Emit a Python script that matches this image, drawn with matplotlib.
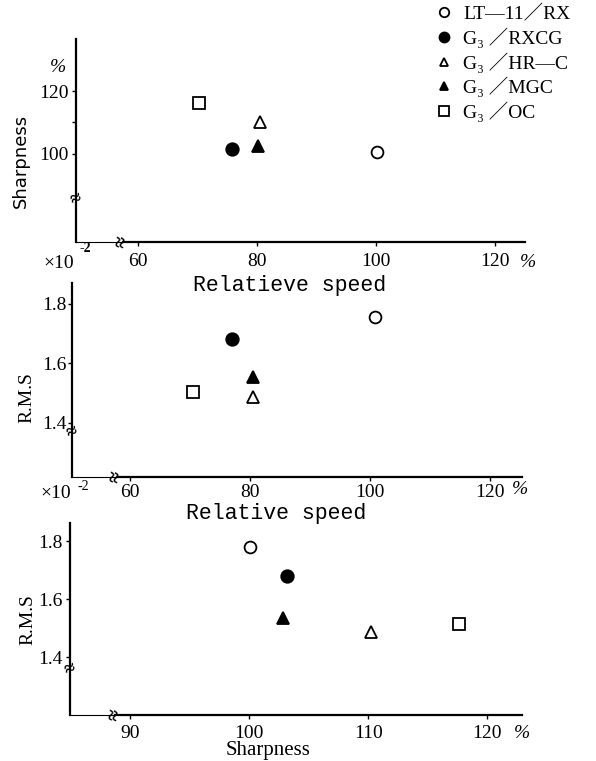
import matplotlib
matplotlib.use("Agg")
import matplotlib.pyplot as plt
from matplotlib.lines import Line2D
from matplotlib.transforms import blended_transform_factory

# ---------------- data ----------------
series = ["LT—11／RX", "G₃ ／RXCG", "G₃ ／HR—C", "G₃ ／MGC", "G₃ ／OC"]

# panel 1: relative speed vs sharpness
speed_p1 = [100.1, 75.8, 80.5, 80.1, 70.3]
sharp_p1 = [100.6, 101.4, 110.1, 102.5, 116.1]
# panel 2: relative speed vs R.M.S
speed_p2 = [100.8, 76.9, 80.4, 80.4, 70.4]
rms_p2 = [1.755, 1.680, 1.487, 1.553, 1.504]
# panel 3: sharpness vs R.M.S
sharp_p3 = [100.1, 103.2, 110.2, 102.9, 117.6]
rms_p3 = [1.780, 1.679, 1.486, 1.534, 1.514]

x_ticks_speed = [60, 80, 100, 120]
x_ticks_sharp = [90, 100, 110, 120]
y_ticks_sharp = [100, 120]
y_ticks_rms = [1.4, 1.6, 1.8]

# ---------------- styles ----------------
markers = ["o", "o", "^", "^", "s"]
faces = ["white", "black", "white", "black", "white"]
msizes = [8.5, 9.0, 8.0, 8.0, 9.0]

SERIF = ["Liberation Serif", "Noto Sans CJK JP", "DejaVu Sans"]
MONO = ["Liberation Mono", "DejaVu Sans Mono"]

W, H = 596, 761
fig = plt.figure(figsize=(W / 100, H / 100), dpi=100)


def fx(px):
    return px / W


def fy(py):
    return 1 - py / H


def make_axes(l, t, r, b):
    return fig.add_axes([fx(l), fy(b), fx(r) - fx(l), fy(t) - fy(b)])


def style_axes(ax, xlim, ylim, xticks, yticks, xpad, ypad, xbreak, ybreak, yminor=None):
    ax.set_xlim(*xlim)
    ax.set_ylim(*ylim)
    for s in ["top", "right"]:
        ax.spines[s].set_visible(False)
    ax.spines["left"].set_linewidth(1.6)
    ax.spines["bottom"].set_linewidth(1.6)
    ax.spines["bottom"].set_bounds(xbreak, xlim[1])
    ax.set_xticks(xticks)
    ax.set_xticklabels([f"{t:g}" for t in xticks])
    ax.set_yticks(yticks)
    ax.set_yticklabels([f"{t:g}" for t in yticks])
    if yminor is not None:
        ax.set_yticks(yminor, minor=True)
    ax.tick_params(axis="x", length=3, width=1, pad=xpad, labelsize=14)
    ax.tick_params(axis="y", length=3, width=1, pad=ypad, labelsize=14)
    ax.tick_params(axis="y", which="minor", length=3, width=1)
    for lab in ax.get_xticklabels() + ax.get_yticklabels():
        lab.set_family(SERIF)
    tb = blended_transform_factory(ax.transData, ax.transAxes)
    tl = blended_transform_factory(ax.transAxes, ax.transData)
    # thin segment of x-axis before the break
    ax.plot([xlim[0], xbreak], [0, 0], transform=tb, color="black", lw=0.8,
            clip_on=False)
    # break marks
    ax.text(xbreak, 0, "≈", transform=tb, rotation=80, ha="center", va="center",
            fontsize=15, family=SERIF, weight="bold")
    ax.text(0, ybreak, "≈", transform=tl, rotation=20, ha="center", va="center",
            fontsize=14, family=SERIF, weight="bold")


def draw_points(ax, xs, ys):
    handles = []
    for x, y, m, fc, ms in zip(xs, ys, markers, faces, msizes):
        h, = ax.plot([x], [y], linestyle="none", marker=m, markersize=ms,
                     markerfacecolor=fc, markeredgecolor="black",
                     markeredgewidth=1.3, clip_on=False)
        handles.append(h)
    return handles


def pct(x, y):
    fig.text(fx(x), fy(y), "%", ha="center", va="center", fontsize=14,
             family=SERIF, style="italic")


# ---------------- panel 1 ----------------
ax1 = make_axes(76, 39, 525, 242)
style_axes(ax1, (49.6, 125.0), (71.8, 136.6), x_ticks_speed, y_ticks_sharp,
           xpad=5, ypad=2, xbreak=57.5, ybreak=85.2, yminor=[110])
draw_points(ax1, speed_p1, sharp_p1)

fig.text(fx(21), fy(161), "Sharpness", rotation=90, ha="center", va="center",
         fontsize=13, family=["DejaVu Sans"])
pct(58, 67)
pct(528, 262)
fig.text(fx(59), fy(264), "×10", ha="center", va="center", fontsize=14, family=SERIF)
fig.text(fx(85), fy(249), "-2", ha="center", va="center", fontsize=10,
         family=SERIF, weight="bold")
fig.text(fx(290), fy(286), "Relatieve speed", ha="center", va="center",
         fontsize=15.5, family=MONO)

# ---------------- panel 2 ----------------
ax2 = make_axes(72, 283, 522, 477)
style_axes(ax2, (50.3, 125.3), (1.218, 1.869), x_ticks_speed, y_ticks_rms,
           xpad=2, ypad=1, xbreak=57.8, ybreak=1.366)
draw_points(ax2, speed_p2, rms_p2)

fig.text(fx(27), fy(398), "R.M.S", rotation=90, ha="center", va="center",
         fontsize=14, family=SERIF)
pct(520, 490)
fig.text(fx(56), fy(493), "×10", ha="center", va="center", fontsize=14, family=SERIF)
fig.text(fx(83), fy(487), "-2", ha="center", va="center", fontsize=10, family=SERIF)
fig.text(fx(276), fy(514), "Relative speed", ha="center", va="center",
         fontsize=15.5, family=MONO)

# ---------------- panel 3 ----------------
ax3 = make_axes(70, 523, 522, 715)
style_axes(ax3, (85.0, 122.9), (1.202, 1.862), x_ticks_sharp, y_ticks_rms,
           xpad=4, ypad=2, xbreak=88.8, ybreak=1.357)
draw_points(ax3, sharp_p3, rms_p3)

fig.text(fx(28), fy(620), "R.M.S", rotation=90, ha="center", va="center",
         fontsize=14, family=SERIF)
pct(522, 733)
fig.text(fx(268), fy(750), "Sharpness", ha="center", va="center",
         fontsize=15, family=SERIF)

# ---------------- legend ----------------
leg_handles = [Line2D([], [], linestyle="none", marker=m, markersize=ms * 0.8,
                      markerfacecolor=fc, markeredgecolor="black",
                      markeredgewidth=1.3)
               for m, fc, ms in zip(markers, faces, msizes)]
fig.legend(leg_handles, series, loc="upper left",
           bbox_to_anchor=(fx(434), fy(5)), frameon=False,
           prop={"family": SERIF, "size": 14}, handlelength=1.0,
           handletextpad=0.5, labelspacing=0.22, borderpad=0, borderaxespad=0)

fig.savefig("out.png", dpi=100)
